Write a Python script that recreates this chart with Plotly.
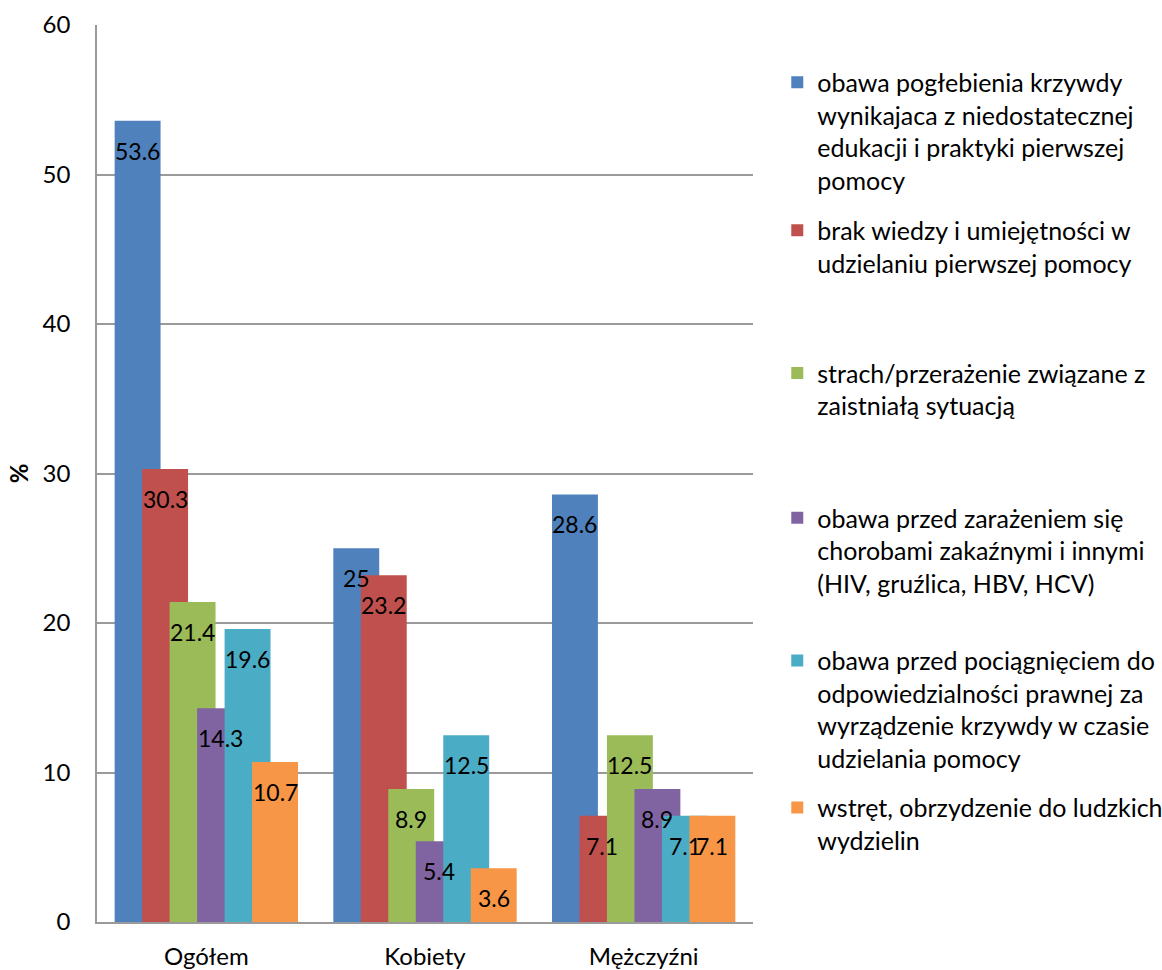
import plotly.graph_objects as go

# Categories and series values (percent)
categories = ["Ogółem", "Kobiety", "Mężczyźni"]
series_names = [
    "obawa pogłebienia krzywdy<br>wynikajaca z niedostatecznej<br>edukacji i praktyki pierwszej<br>pomocy",
    "brak wiedzy i umiejętności w<br>udzielaniu pierwszej pomocy",
    "strach/przerażenie związane z<br>zaistniałą sytuacją",
    "obawa przed zarażeniem się<br>chorobami zakaźnymi i innymi<br>(HIV, gruźlica, HBV, HCV)",
    "obawa przed pociągnięciem do<br>odpowiedzialności prawnej za<br>wyrządzenie krzywdy w czasie<br>udzielania pomocy",
    "wstręt, obrzydzenie do ludzkich<br>wydzielin",
]
values_fear_harm = [53.6, 25, 28.6]
values_no_knowledge = [30.3, 23.2, 7.1]
values_fright = [21.4, 8.9, 12.5]
values_infection = [14.3, 5.4, 8.9]
values_legal = [19.6, 12.5, 7.1]
values_disgust = [10.7, 3.6, 7.1]

series_values = [values_fear_harm, values_no_knowledge, values_fright,
                 values_infection, values_legal, values_disgust]
colors = ["#4F81BD", "#C0504D", "#9BBB59", "#8064A2", "#4BACC6", "#F79646"]

FONT = "Lato"
FS = 24
BAR_W = 0.21
STEP = 0.1257
FIRST = -0.3143
legend_tops = [0.9615, 0.7965, 0.6375, 0.4760, 0.3170, 0.1530]

fig = go.Figure()
annotations = []
for k, (name, vals, col) in enumerate(zip(series_names, series_values, colors)):
    xs = [i + FIRST + k * STEP for i in range(len(categories))]
    lg = "legend" if k == 0 else f"legend{k + 1}"
    fig.add_trace(go.Bar(
        x=xs, y=vals, width=BAR_W, name=name,
        marker=dict(color=col, line=dict(width=0)),
        legend=lg, hoverinfo="y",
    ))
    for x, v in zip(xs, vals):
        annotations.append(dict(
            x=x, y=v, xref="x", yref="y", text=f"{v:g}", showarrow=False,
            yanchor="middle", yshift=-30,
            font=dict(family=FONT, size=23, color="black"),
        ))

legend_style = dict(
    x=1.037, xanchor="left", yanchor="top", valign="top",
    font=dict(family=FONT, size=25, color="black"),
    bgcolor="rgba(0,0,0,0)", borderwidth=0, itemwidth=30,
)
layout_legends = {}
for k, top in enumerate(legend_tops):
    key = "legend" if k == 0 else f"legend{k + 1}"
    layout_legends[key] = dict(legend_style, y=top)

fig.update_layout(
    width=1162, height=970,
    margin=dict(l=97, r=409, t=25, b=48, autoexpand=False),
    paper_bgcolor="white", plot_bgcolor="white",
    barmode="overlay", showlegend=True,
    font=dict(family=FONT, size=FS, color="black"),
    annotations=annotations,
    xaxis=dict(
        range=[-0.5, 2.5], tickvals=list(range(len(categories))), ticktext=categories,
        showgrid=False, zeroline=False, showline=True, linecolor="#9a9a9a", linewidth=1.5,
        ticks="", ticklabelstandoff=12, automargin=False,
        tickfont=dict(family=FONT, size=FS, color="black"),
    ),
    yaxis=dict(
        range=[0, 60], dtick=10, showgrid=True, gridcolor="#9a9a9a", gridwidth=1.5,
        zeroline=False, showline=True, linecolor="#9a9a9a", linewidth=1.5,
        ticks="", ticklabelstandoff=20, automargin=False,
        tickfont=dict(family=FONT, size=FS, color="black"),
        title=dict(text="<b>%</b>", font=dict(family=FONT, size=FS, color="black"), standoff=7),
    ),
    **layout_legends,
)

fig.write_html("out.html")
